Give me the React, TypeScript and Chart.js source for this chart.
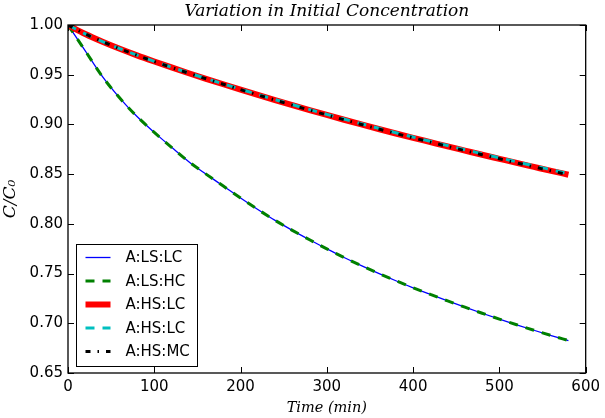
import React, { useEffect, useRef } from "react";
import { Chart, registerables } from "chart.js";

Chart.register(...registerables);

const timeMin = [0, 20, 40, 60, 80, 100, 120, 140, 160, 180, 200, 220, 240, 260, 280, 300, 320, 340, 360, 380, 400, 420, 440, 460, 480, 500, 520, 540, 560, 580];

const lsLC = [1.0, 0.974, 0.948, 0.9265, 0.908, 0.892, 0.877, 0.8625, 0.85, 0.838, 0.826, 0.8145, 0.8035, 0.7935, 0.784, 0.7748, 0.7662, 0.758, 0.7502, 0.7428, 0.7357, 0.729, 0.7225, 0.7162, 0.7101, 0.7042, 0.6985, 0.693, 0.6877, 0.6826];
const lsHC = [1.0, 0.974, 0.948, 0.9265, 0.908, 0.892, 0.877, 0.8625, 0.85, 0.838, 0.826, 0.8145, 0.8035, 0.7935, 0.784, 0.7748, 0.7662, 0.758, 0.7502, 0.7428, 0.7357, 0.729, 0.7225, 0.7162, 0.7101, 0.7042, 0.6985, 0.693, 0.6877, 0.6826];
const hsLC = [1.0, 0.991, 0.9832, 0.9761, 0.9695, 0.9633, 0.9573, 0.9515, 0.9459, 0.9404, 0.935, 0.9297, 0.9245, 0.9194, 0.9144, 0.9095, 0.9047, 0.9, 0.8954, 0.8909, 0.8865, 0.8822, 0.8779, 0.8737, 0.8695, 0.8654, 0.8613, 0.8573, 0.8533, 0.8494];
const hsLC2 = [1.0, 0.9911, 0.9833, 0.9762, 0.9697, 0.9635, 0.9575, 0.9518, 0.9462, 0.9408, 0.9354, 0.9302, 0.925, 0.92, 0.915, 0.9101, 0.9054, 0.9007, 0.8961, 0.8917, 0.8873, 0.883, 0.8788, 0.8746, 0.8705, 0.8664, 0.8624, 0.8584, 0.8545, 0.8506];
const hsMC = [1.0, 0.991, 0.9832, 0.9761, 0.9695, 0.9633, 0.9573, 0.9515, 0.9459, 0.9404, 0.935, 0.9297, 0.9245, 0.9194, 0.9144, 0.9095, 0.9047, 0.9, 0.8954, 0.8909, 0.8865, 0.8822, 0.8779, 0.8737, 0.8695, 0.8654, 0.8613, 0.8573, 0.8533, 0.8494];

const seriesLabels = ["A:LS:LC", "A:LS:HC", "A:HS:LC", "A:HS:LC", "A:HS:MC"];
const chartTitle = "Variation in Initial Concentration";
const xTitle = "Time (min)";
const yTitle = "C/C\u2080";

const toPts = (ys: number[]) => ys.map((y, i) => ({ x: timeMin[i], y }));

const decor = {
  id: "decor",
  afterDatasetsDraw(chart: any) {
    const { ctx, chartArea: a, scales } = chart;
    const xs = scales.x;
    const ys = scales.y;
    ctx.save();
    ctx.strokeStyle = "#000";
    ctx.lineWidth = 1;
    ctx.beginPath();
    xs.ticks.forEach((t: any) => {
      const px = Math.round(xs.getPixelForValue(t.value)) + 0.5;
      ctx.moveTo(px, a.bottom);
      ctx.lineTo(px, a.bottom - 6);
      ctx.moveTo(px, a.top);
      ctx.lineTo(px, a.top + 6);
    });
    ys.ticks.forEach((t: any) => {
      const py = Math.round(ys.getPixelForValue(t.value)) + 0.5;
      ctx.moveTo(a.left, py);
      ctx.lineTo(a.left + 6, py);
      ctx.moveTo(a.right, py);
      ctx.lineTo(a.right - 6, py);
    });
    ctx.stroke();
    ctx.lineWidth = 1.3;
    ctx.strokeRect(a.left, a.top, a.right - a.left, a.bottom - a.top);

    // title
    ctx.fillStyle = "#000";
    ctx.font = "italic 17px 'DejaVu Serif'";
    ctx.textAlign = "center";
    ctx.textBaseline = "middle";
    ctx.fillText(chartTitle, (a.left + a.right) / 2, 12);

    // legend
    const bx = Math.round(a.left + 8) + 0.5;
    const bh = 122;
    const bw = 121;
    const by = Math.round(a.bottom - 7 - bh) + 0.5;
    ctx.fillStyle = "#fff";
    ctx.fillRect(bx, by, bw, bh);
    ctx.lineWidth = 1;
    ctx.strokeStyle = "#000";
    ctx.strokeRect(bx, by, bw, bh);
    ctx.font = "15px 'DejaVu Sans'";
    ctx.textBaseline = "middle";
    ctx.textAlign = "left";
    chart.data.datasets.forEach((ds: any, i: number) => {
      const ry = by + 13 + i * 23.5;
      ctx.save();
      ctx.strokeStyle = ds.borderColor;
      ctx.lineWidth = ds.borderWidth;
      ctx.setLineDash(ds.borderDash || []);
      ctx.lineCap = "butt";
      ctx.beginPath();
      ctx.moveTo(bx + 9, ry);
      ctx.lineTo(bx + 34, ry);
      ctx.stroke();
      ctx.restore();
      ctx.fillStyle = "#000";
      ctx.fillText(ds.label, bx + 49, ry + 1);
    });
    ctx.restore();
  },
};

export default function App() {
  const ref = useRef<HTMLCanvasElement | null>(null);
  useEffect(() => {
    if (!ref.current) return;
    const chart = new Chart(ref.current, {
      type: "line",
      data: {
        datasets: [
          { label: seriesLabels[0], data: toPts(lsLC), borderColor: "#0000ff", borderWidth: 1.3, order: 5 },
          { label: seriesLabels[1], data: toPts(lsHC), borderColor: "#008000", borderWidth: 3, borderDash: [9, 8], order: 4 },
          { label: seriesLabels[2], data: toPts(hsLC), borderColor: "#ff0000", borderWidth: 6, order: 3 },
          { label: seriesLabels[3], data: toPts(hsLC2), borderColor: "#00bfbf", borderWidth: 3, borderDash: [9, 8], order: 2 },
          { label: seriesLabels[4], data: toPts(hsMC), borderColor: "#000000", borderWidth: 3, borderDash: [5, 7, 1.5, 7], order: 1 },
        ] as any,
      },
      options: {
        animation: false,
        responsive: false,
        parsing: false as any,
        elements: { point: { radius: 0 }, line: { cubicInterpolationMode: "monotone", fill: false } },
        layout: { padding: { left: 0, right: 15, top: 25, bottom: 0 } },
        plugins: {
          legend: { display: false },
          tooltip: { enabled: false },
          title: { display: false },
        },
        scales: {
          x: {
            type: "linear",
            min: 0,
            max: 600,
            grid: { display: false, drawTicks: false },
            border: { display: false },
            ticks: { stepSize: 100, color: "#000", padding: 5, font: { family: "'DejaVu Sans'", size: 15 }, maxRotation: 0 },
            title: {
              display: true,
              text: xTitle,
              color: "#000",
              font: { family: "'DejaVu Serif'", size: 14.5, style: "italic", lineHeight: 1.2 },
              padding: { top: 0, bottom: 1 },
            },
            afterFit: (s: any) => { s.height = 45; },
          },
          y: {
            type: "linear",
            min: 0.65,
            max: 1.0,
            grid: { display: false, drawTicks: false },
            border: { display: false },
            ticks: {
              stepSize: 0.05,
              color: "#000",
              padding: 5,
              font: { family: "'DejaVu Sans'", size: 15 },
              callback: (v: any) => Number(v).toFixed(2),
            },
            title: {
              display: true,
              text: yTitle,
              color: "#000",
              font: { family: "'DejaVu Serif'", size: 17, style: "italic", lineHeight: 1.2 },
              padding: { top: 0, bottom: 0 },
            },
            afterFit: (s: any) => { s.width = 68; },
          },
        },
      } as any,
      plugins: [decor],
    });
    return () => chart.destroy();
  }, []);
  return (
    <div style={{ position: "fixed", left: 0, top: 0, width: 605, height: 418, background: "#fff" }}>
      <canvas ref={ref} width={605} height={418} style={{ width: 605, height: 418 }} />
    </div>
  );
}
